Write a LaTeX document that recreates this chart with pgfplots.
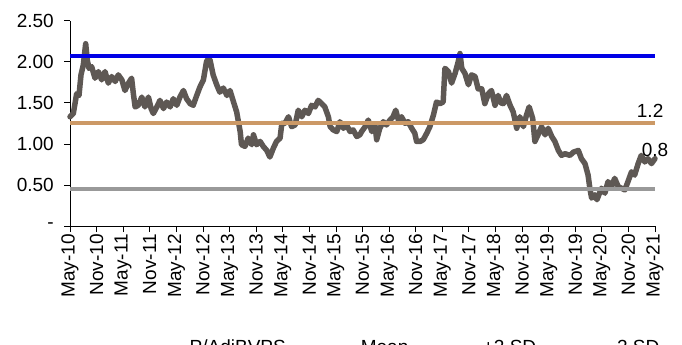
\documentclass[border=0pt]{standalone}
\usepackage{pgfplots}
\pgfplotsset{compat=1.18}
\usepackage{fontspec}
\setmainfont{Liberation Sans}
\definecolor{pline}{RGB}{94,88,84}
\definecolor{meanc}{RGB}{204,153,102}
\definecolor{plusc}{RGB}{0,0,230}
\definecolor{minusc}{RGB}{153,153,153}
\pgfplotstableread{
m v
0 1.33
0.75 1.37
1.5 1.61
2.03 1.59
2.48 1.84
3.0 1.96
3.54 2.22
3.9 2.02
4.29 1.92
4.89 1.94
5.64 1.80
6.4 1.88
7.15 1.78
7.9 1.88
8.65 1.74
9.4 1.82
10.2 1.76
10.9 1.84
11.7 1.78
12.4 1.65
13.2 1.74
13.9 1.80
14.3 1.61
14.7 1.45
15.4 1.47
16.2 1.57
16.9 1.45
17.7 1.57
18.3 1.43
18.8 1.37
19.6 1.45
20.3 1.53
21.1 1.43
21.8 1.51
22.6 1.45
23.3 1.55
24.1 1.47
24.8 1.57
25.6 1.65
26.3 1.55
27.1 1.49
27.8 1.47
28.6 1.59
29.3 1.69
30.1 1.78
30.8 2.00
31.2 2.04
31.6 2.02
32.3 1.84
33.1 1.72
33.8 1.63
34.6 1.68
35.4 1.59
36.1 1.65
36.9 1.51
37.6 1.39
38.4 1.15
38.7 0.99
39.5 0.97
40.2 1.07
41.0 0.99
41.4 1.11
42.1 0.99
42.9 1.03
43.6 0.97
44.4 0.92
45.1 0.84
45.9 0.95
46.6 1.03
47.4 1.07
47.8 1.25
48.5 1.25
49.3 1.33
50.0 1.21
50.8 1.23
51.5 1.41
52.3 1.33
53.0 1.41
53.8 1.37
54.5 1.47
55.3 1.45
56.0 1.53
56.8 1.49
57.5 1.45
58.3 1.33
58.7 1.21
59.4 1.17
60.2 1.15
60.9 1.27
61.7 1.19
62.4 1.23
63.2 1.15
63.9 1.17
64.7 1.09
65.4 1.11
65.8 1.15
66.6 1.21
67.3 1.29
68.1 1.15
68.8 1.23
69.2 1.05
69.9 1.19
70.7 1.27
71.4 1.23
72.2 1.29
72.9 1.33
73.5 1.41
74.1 1.29
74.8 1.33
75.6 1.25
76.3 1.27
77.1 1.19
77.8 1.13
78.2 1.03
79.0 1.03
79.7 1.05
80.5 1.13
81.2 1.21
82.0 1.35
82.7 1.51
83.5 1.49
84.2 1.51
84.6 1.92
85.4 1.88
86.1 1.74
86.9 1.86
87.6 2.00
88.0 2.10
88.4 1.92
89.1 1.86
89.9 1.72
90.6 1.84
91.4 1.82
92.1 1.67
92.9 1.67
93.6 1.49
94.4 1.61
95.1 1.65
95.9 1.47
96.6 1.59
97.2 1.50
97.8 1.49
98.5 1.59
99.3 1.47
100.0 1.39
100.8 1.19
101.5 1.33
102.3 1.21
103.0 1.35
103.6 1.45
104.4 1.31
104.9 1.03
105.6 1.11
106.4 1.21
107.2 1.11
107.9 1.19
108.7 1.09
109.4 1.03
110.2 0.92
110.9 0.86
111.7 0.88
112.8 0.86
113.6 0.90
114.7 0.92
115.4 0.82
116.2 0.76
116.9 0.62
117.3 0.46
117.7 0.34
118.4 0.38
118.9 0.32
119.9 0.46
120.7 0.40
121.4 0.54
122.2 0.48
122.9 0.58
123.7 0.48
124.4 0.46
125.2 0.44
125.9 0.54
126.7 0.66
127.4 0.62
128.2 0.76
128.9 0.86
129.7 0.78
130.4 0.82
131.2 0.76
132.0 0.82
}\pbv
\begin{document}
\begin{tikzpicture}[font=\fontsize{19bp}{23bp}\selectfont]
\useasboundingbox (-70bp,-119bp) rectangle (612bp,226bp);
\begin{axis}[
  at={(0,0)}, anchor=south west,
  scale only axis, width=585bp, height=205.3bp,
  xmin=0, xmax=132, ymin=0, ymax=2.5,
  clip=false,
  axis lines*=left,
  axis line style={black, line width=0.75bp},
  tick style={black, line width=0.75bp},
  tick align=outside, major tick length=6bp,
  xtick={0,6,...,132},
  xticklabels={May-10,Nov-10,May-11,Nov-11,May-12,Nov-12,May-13,Nov-13,May-14,Nov-14,May-15,Nov-15,May-16,Nov-16,May-17,Nov-17,May-18,Nov-18,May-19,Nov-19,May-20,Nov-20,May-21},
  xticklabel style={rotate=90, anchor=east, inner sep=2bp},
  ytick={0,0.5,1,1.5,2,2.5},
  yticklabels={-\hspace{14bp},0.50,1.00,1.50,2.00,2.50},
  yticklabel style={anchor=east, inner sep=0bp, xshift=-10bp},
  legend columns=4,
  legend cell align=left,
  legend style={draw=none, fill=none, inner sep=0pt, at={(0.1385,-0.5407)}, anchor=north west,
    nodes={inner sep=3bp},
    /tikz/every even column/.append style={column sep=35bp}},
  legend image code/.code={\draw[#1] (0bp,0bp) -- (30bp,0bp);},
]
\addplot[pline, line width=5.5bp, line join=round, line cap=round] table[x=m,y=v] {\pbv};
\addlegendentry{P/AdjBVPS}
\addplot[meanc, line width=4bp] coordinates {(0,1.26) (132,1.26)};
\addlegendentry{Mean}
\addplot[plusc, line width=3.5bp] coordinates {(0,2.07) (132,2.07)};
\addlegendentry{+2 SD}
\addplot[minusc, line width=3.5bp] coordinates {(0,0.45) (132,0.45)};
\addlegendentry{-2 SD}
\node[anchor=base] at (axis cs:130.9,1.318) {1.2};
\node[anchor=base] at (axis cs:132,0.852) {0.8};
\end{axis}
\end{tikzpicture}
\end{document}
